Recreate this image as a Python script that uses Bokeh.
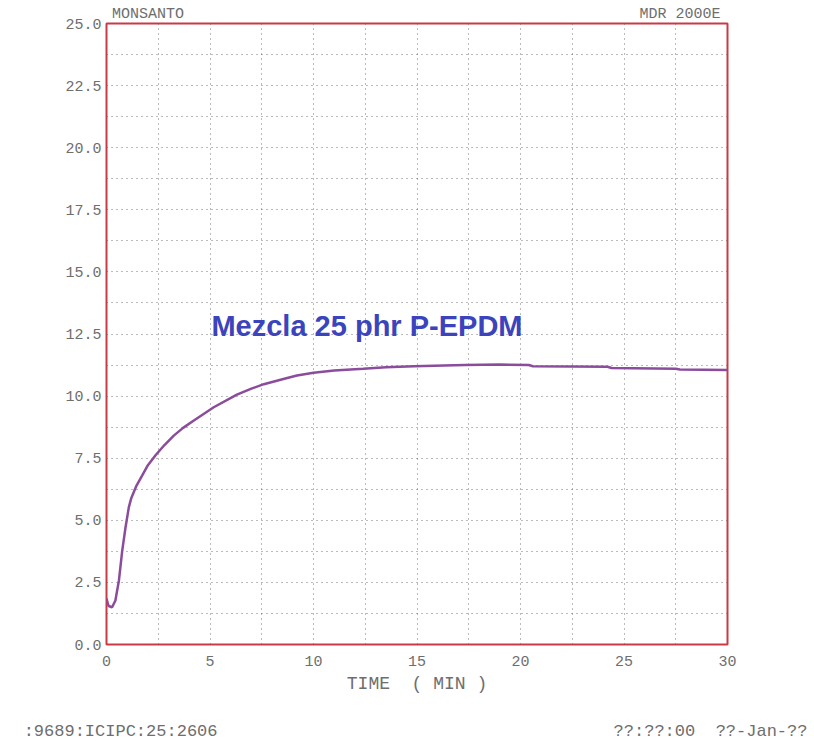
from bokeh.plotting import figure
from bokeh.models import Range1d, FixedTicker, PrintfTickFormatter, Label, LinearAxis
from bokeh.embed import file_html
from bokeh.resources import INLINE

# Cure curve data (time in min, torque)
time_min = [0, 0.1, 0.27, 0.43, 0.6, 0.76, 0.92, 1.08, 1.2, 1.45, 1.72, 2.0, 2.37, 2.8,
            3.25, 3.7, 4.22, 5.18, 6.3, 7.0, 7.6, 8.5, 9.2, 10.0, 11.0, 12.4, 13.5,
            14.85, 17.3, 19.0, 20.4, 20.6, 24.2, 24.4, 27.5, 27.7, 30]
torque = [1.85, 1.55, 1.5, 1.77, 2.58, 3.78, 4.72, 5.53, 5.9, 6.4, 6.8, 7.22, 7.62, 8.03,
          8.41, 8.72, 9.02, 9.55, 10.06, 10.3, 10.48, 10.68, 10.83, 10.94, 11.03, 11.1,
          11.16, 11.2, 11.25, 11.27, 11.25, 11.2, 11.18, 11.13, 11.1, 11.07, 11.05]

x_ticks = [0, 5, 10, 15, 20, 25, 30]
y_ticks = [0, 2.5, 5, 7.5, 10, 12.5, 15, 17.5, 20, 22.5, 25]
x_grid = [2.5, 5, 7.5, 10, 12.5, 15, 17.5, 20, 22.5, 25, 27.5]
y_grid = [1.25 * i for i in range(1, 20)]

header_texts = {2.0: "MONSANTO", 27.7: "MDR 2000E"}
footer_texts = {0.68: ":9689:ICIPC:25:2606", 29.18: "??:??:00\u00a0\u00a0??-Jan-??"}

FONT = "Liberation Mono"
GRAY = "#6e6e6e"

p = figure(width=814, height=743, output_backend="svg", toolbar_location=None,
           x_range=Range1d(0, 30), y_range=Range1d(0, 25),
           min_border_left=106, min_border_right=87, min_border_top=23,
           min_border_bottom=99)
p.background_fill_color = "white"
p.border_fill_color = "white"
p.outline_line_color = "#c83a44"
p.outline_line_width = 2
p.outline_line_alpha = 1.0

p.xaxis.ticker = FixedTicker(ticks=x_ticks)
p.yaxis.ticker = FixedTicker(ticks=y_ticks)
p.yaxis.formatter = PrintfTickFormatter(format="%.1f")


def style_axis(ax, size="15px"):
    ax.axis_line_color = None
    ax.major_tick_line_color = None
    ax.minor_tick_line_color = None
    ax.major_tick_in = 0
    ax.major_tick_out = 0
    ax.major_label_text_font = FONT
    ax.major_label_text_font_size = size
    ax.major_label_text_color = GRAY


for ax in (p.xaxis[0], p.yaxis[0]):
    style_axis(ax)
p.yaxis.major_label_standoff = 5
p.xaxis.major_label_standoff = 11
p.xaxis.axis_label = "TIME\u00a0\u00a0( MIN )"
p.xaxis.axis_label_text_font = FONT
p.xaxis.axis_label_text_font_style = "normal"
p.xaxis.axis_label_text_font_size = "18px"
p.xaxis.axis_label_text_color = GRAY
p.xaxis.axis_label_standoff = 5

top_axis = LinearAxis(ticker=FixedTicker(ticks=list(header_texts.keys())),
                      major_label_overrides=header_texts)
style_axis(top_axis, "15px")
top_axis.major_label_standoff = 1
p.add_layout(top_axis, "above")

bottom_axis = LinearAxis(ticker=FixedTicker(ticks=list(footer_texts.keys())),
                         major_label_overrides=footer_texts)
style_axis(bottom_axis, "17px")
bottom_axis.major_label_standoff = 25
p.add_layout(bottom_axis, "below")

p.xgrid.ticker = FixedTicker(ticks=x_grid)
p.ygrid.ticker = FixedTicker(ticks=y_grid)
for g in (p.xgrid, p.ygrid):
    g.grid_line_color = "#555555"
    g.grid_line_dash = "1 4"
    g.grid_line_width = 1
    g.grid_line_alpha = 0.8

p.line(time_min, torque, line_color="#8b4c9c", line_width=2.5)

p.add_layout(Label(x=5.07, y=12.84, text="Mezcla 25 phr P-EPDM",
                   text_font="Liberation Sans", text_font_style="bold",
                   text_font_size="29px", text_color="#3b44bd",
                   text_baseline="alphabetic", text_align="left"))

open("out.html", "w").write(file_html(p, INLINE))
